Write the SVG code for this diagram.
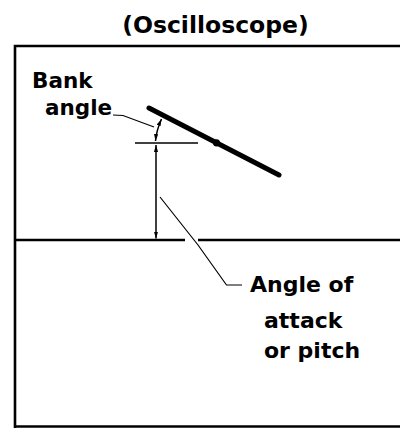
<svg xmlns="http://www.w3.org/2000/svg" width="400" height="428" viewBox="0 0 400 428">
<style>
.t{font-family:"DejaVu Sans","Liberation Sans",sans-serif;font-weight:bold;fill:#000;}
.frame{fill:none;stroke:#000;stroke-width:2.6;}
.thin{fill:none;stroke:#000;stroke-width:1.2;}
.arr{fill:none;stroke:#000;stroke-width:1.5;marker-start:url(#ah);marker-end:url(#ah);}
</style>
<defs>
<marker id="ah" viewBox="0 0 10 6" refX="10" refY="3" markerWidth="7" markerHeight="4.5" markerUnits="userSpaceOnUse" orient="auto-start-reverse">
<path d="M0,0 L10,3 L0,6 Z" fill="#000"/>
</marker>
</defs>
<rect width="400" height="428" fill="#fff"/>
<text class="t" x="215.5" y="33" font-size="23.5" text-anchor="middle">(Oscilloscope)</text>
<g id="screen">
<path class="frame" d="M15,428 L15,46 L402,46"/>
<line class="frame" x1="14" y1="426.5" x2="402" y2="426.5"/>
</g>
<g id="horizon">
<line class="frame" x1="15" y1="240" x2="185" y2="240"/>
<line class="frame" x1="198" y1="240" x2="402" y2="240"/>
</g>
<g id="reference-bar">
<line x1="135" y1="143" x2="198" y2="143" stroke="#000" stroke-width="1.6"/>
</g>
<g id="wing">
<line x1="149" y1="108" x2="279" y2="175" stroke="#000" stroke-width="5" stroke-linecap="round"/>
<circle cx="216.5" cy="142.8" r="3.6" fill="#000"/>
</g>
<g id="bank-label">
<text class="t" x="32" y="88" font-size="21.5">Bank</text>
<text class="t" x="45" y="115" font-size="21.5">angle</text>
</g>
<g id="aoa-label">
<text class="t" x="250" y="292" font-size="22">Angle of</text>
<text class="t" x="264" y="328" font-size="22">attack</text>
<text class="t" x="264" y="358" font-size="22">or pitch</text>
</g>
<g id="connectors">
<path class="arr" d="M155.5,141 Q156.5,130 161.5,119"/>
<line class="arr" x1="156" y1="145" x2="156" y2="238.5"/>
<polyline class="thin" points="113,115 123,115.5 154,127"/>
<polyline class="thin" points="160,197 198,245 226.5,285 242,285"/>
</g>
</svg>
